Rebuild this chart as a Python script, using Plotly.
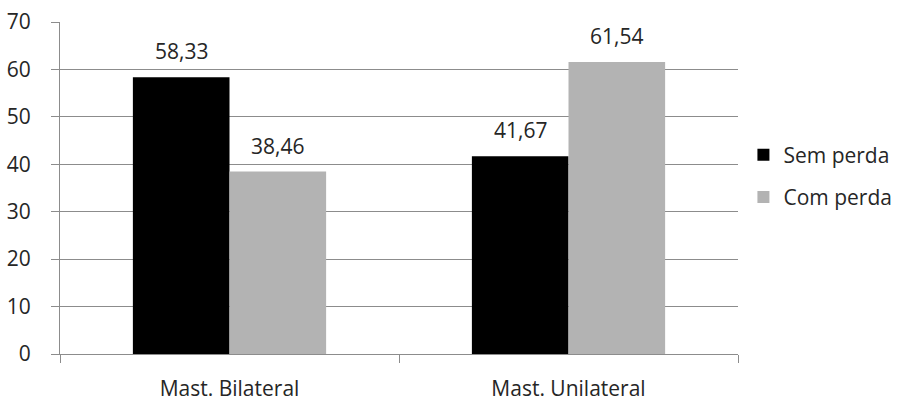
import plotly.graph_objects as go

categories = ["Mast. Bilateral", "Mast. Unilateral"]
sem_perda = [58.33, 41.67]
com_perda = [38.46, 61.54]
series_names = ["Sem perda", "Com perda"]
y_ticks = [0, 10, 20, 30, 40, 50, 60, 70]

FONT = "Open Sans"
FS = 21
TXT = "#262626"
GRID = "#8c8c8c"

def fmt(v):
    return f"{v:.2f}".replace(".", ",")

fig = go.Figure()
fig.add_trace(go.Bar(x=categories, y=sem_perda, name=series_names[0],
                     marker=dict(color="#000000", line=dict(width=0)),
                     legendgroup="a"))
fig.add_trace(go.Bar(x=categories, y=com_perda, name=series_names[1],
                     marker=dict(color="#b3b3b3", line=dict(width=0)),
                     legendgroup="b"))

annotations = []
for vals, shift in ((sem_perda, -48), (com_perda, 48)):
    for c, v in zip(categories, vals):
        annotations.append(dict(x=c, y=v, xref="x", yref="y", text=fmt(v),
                                showarrow=False, xshift=shift, yshift=10,
                                yanchor="bottom",
                                font=dict(family=FONT, size=FS, color=TXT)))

fig.update_layout(
    width=901, height=403,
    margin=dict(l=60, r=163, t=22, b=49, autoexpand=False),
    paper_bgcolor="white", plot_bgcolor="white",
    barmode="group", bargap=0.43, bargroupgap=0,
    font=dict(family=FONT, size=FS, color=TXT),
    showlegend=True,
    legend=dict(x=1.008, y=0.536, xanchor="left", yanchor="middle",
                traceorder="grouped", tracegroupgap=12,
                font=dict(family=FONT, size=FS, color=TXT),
                itemwidth=30),
    annotations=annotations,
)
fig.update_yaxes(range=[0, 70], tickvals=y_ticks, showgrid=True,
                 gridcolor=GRID, gridwidth=1.3, zeroline=False,
                 showline=True, linecolor=GRID, linewidth=1.3,
                 ticks="outside", ticklen=8, tickcolor=GRID, tickwidth=1.3,
                 ticklabelstandoff=16, automargin=False,
                 tickfont=dict(family=FONT, size=FS, color=TXT))
fig.update_xaxes(showline=True, linecolor=GRID, linewidth=1.3,
                 ticks="outside", ticklen=8, tickcolor=GRID, tickwidth=1.3,
                 tickson="boundaries", ticklabelstandoff=16, automargin=False,
                 tickfont=dict(family=FONT, size=FS, color=TXT))

fig.write_html("out.html")
